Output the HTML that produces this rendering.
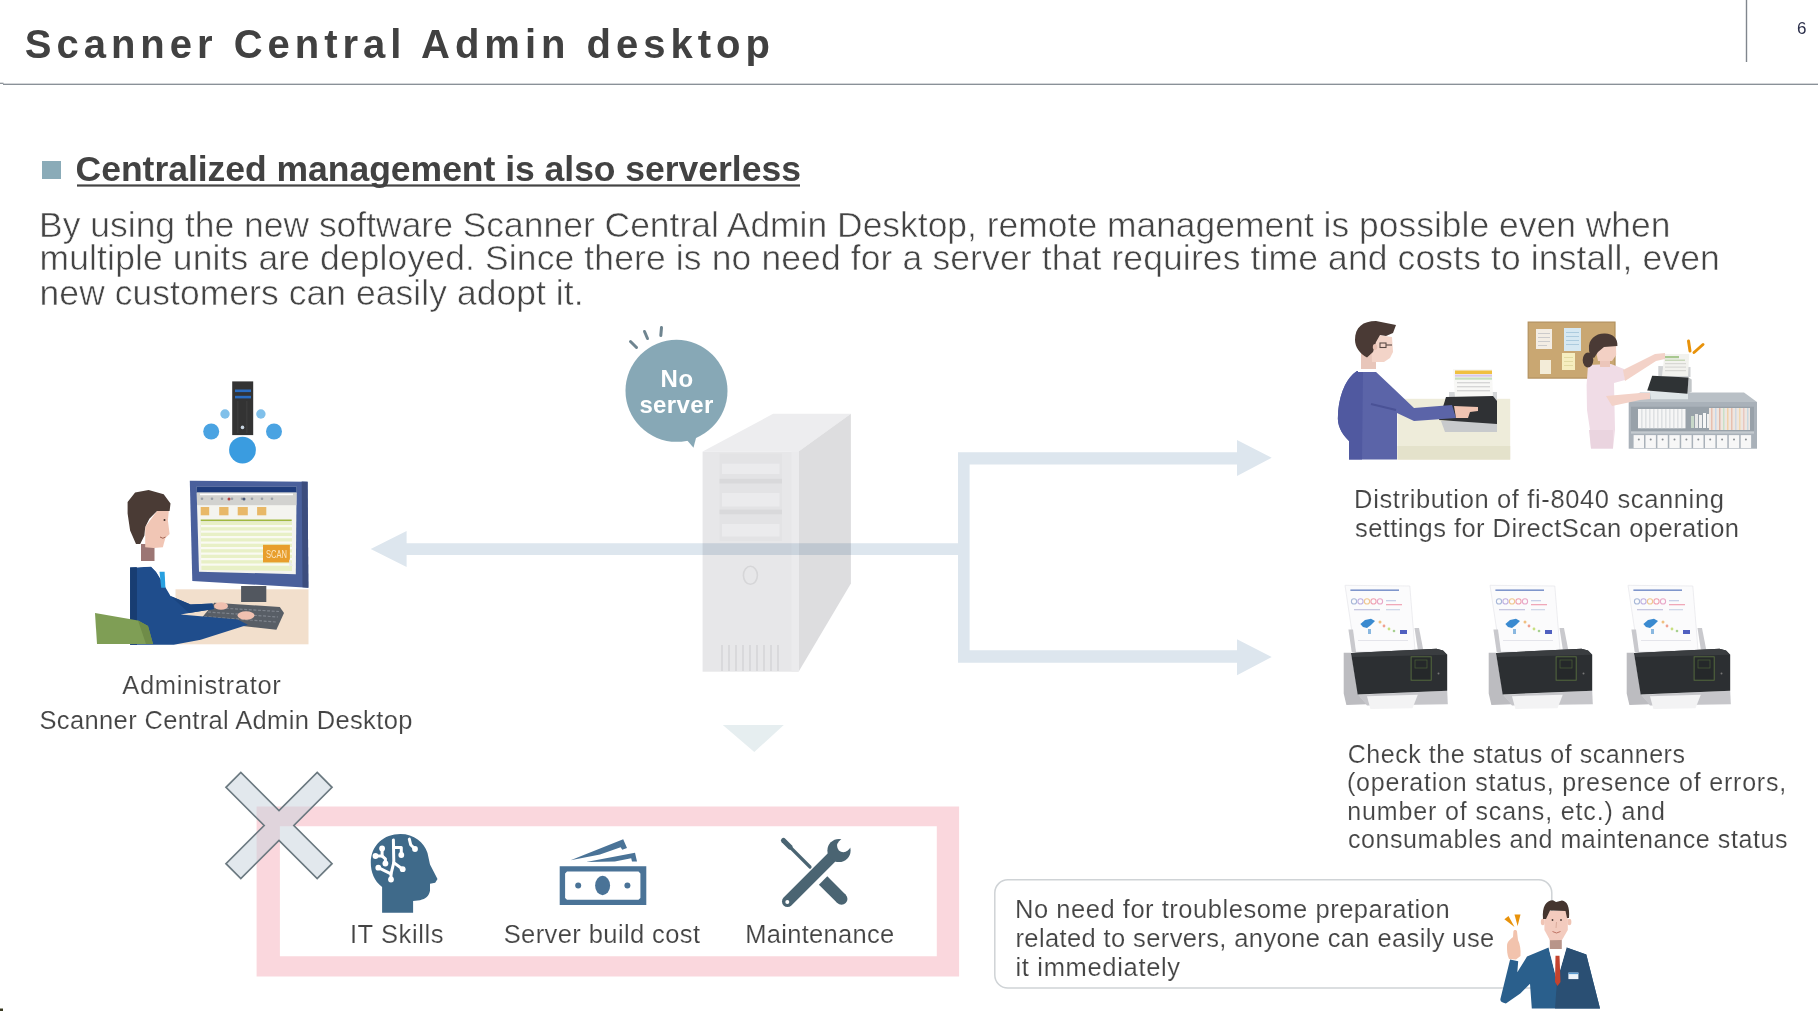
<!DOCTYPE html>
<html><head><meta charset="utf-8">
<style>
html,body{margin:0;padding:0;background:#fff;}
body{width:1818px;height:1011px;overflow:hidden;position:relative;font-family:"Liberation Sans",sans-serif;}
svg{position:absolute;left:0;top:0;}
text{font-family:"Liberation Sans",sans-serif;}
</style></head><body>
<svg width="1818" height="1011" viewBox="0 0 1818 1011">
<!-- header -->
<text x="24.8" y="58" font-size="40" font-weight="bold" fill="#414141" letter-spacing="4.99">Scanner Central Admin desktop</text>
<rect x="3" y="83.65" width="1815" height="1.3" fill="#858c93"/>
<rect x="0" y="82.7" width="3.5" height="1.2" fill="#858c93"/>
<rect x="1745.8" y="0" width="1.4" height="62" fill="#80868e"/>
<text x="1797" y="33.6" font-size="17" fill="#2b2f4a">6</text>

<!-- subtitle bullet + underline -->
<rect x="42" y="161" width="19" height="18" fill="#8aabb8"/>
<rect x="77" y="184.4" width="723" height="2.2" fill="#444"/>

<!-- ===== SERVER (center) ===== -->
<g id="server">
  <polygon points="702.6,451.6 773.1,413.8 850.9,413.8 798.6,451.6" fill="#ededef"/>
  <polygon points="798.6,451.6 850.9,413.8 850.9,583.4 798.6,671.7" fill="#dddddf"/>
  <rect x="702.6" y="451.6" width="96" height="220.1" fill="#e7e7e9"/>
  
  <rect x="791.5" y="451.6" width="7.1" height="220.1" fill="#ebebed"/>
  <rect x="719.5" y="453.4" width="62.5" height="87.6" fill="#e3e3e5"/>
  <rect x="719.5" y="478.8" width="62.5" height="4.7" fill="#d9d9db"/>
  <rect x="719.5" y="509.6" width="62.5" height="4.7" fill="#d9d9db"/>
  <rect x="722" y="463.7" width="57.5" height="10.3" fill="#ebebed"/>
  <rect x="722" y="493" width="57.5" height="13.5" fill="#ebebed"/>
  <rect x="722" y="523.9" width="57.5" height="12.6" fill="#ebebed"/>
  <ellipse cx="750.4" cy="575.3" rx="7" ry="9" fill="none" stroke="#d6d6d8" stroke-width="1.6"/>
  <g stroke="#d6d6d8" stroke-width="1.6">
    <line x1="722" y1="645" x2="722" y2="671"/><line x1="729" y1="645" x2="729" y2="671"/>
    <line x1="736" y1="645" x2="736" y2="671"/><line x1="743" y1="645" x2="743" y2="671"/>
    <line x1="750" y1="645" x2="750" y2="671"/><line x1="757" y1="645" x2="757" y2="671"/>
    <line x1="764" y1="645" x2="764" y2="671"/><line x1="771" y1="645" x2="771" y2="671"/>
    <line x1="778" y1="645" x2="778" y2="671"/>
  </g>
</g>

<!-- ===== ARROWS ===== -->
<polygon style="mix-blend-mode:multiply" fill="#dde6ee" points="370.7,549 406.6,531 406.6,543.2 958,543.2 958,452.3 1237,452.3 1237,440 1271.7,457.8 1237,476 1237,464.5 969.6,464.5 969.6,650.3 1237,650.3 1237,639.3 1271.7,657 1237,675.3 1237,662.7 958,662.7 958,555 406.6,555 406.6,567"/>
<polygon points="722.8,725 783.8,725 754.3,752" fill="#e6eef0"/>

<!-- ===== NO SERVER BUBBLE ===== -->
<g id="bubble">
  <circle cx="676.5" cy="390.8" r="51" fill="#87a8b6"/>
  <polygon points="686,439 696.5,436 693.5,447.7" fill="#87a8b6"/>
  <g stroke="#6f8590" stroke-width="3" stroke-linecap="round">
    <line x1="630.5" y1="341.5" x2="636.5" y2="347.5"/>
    <line x1="644.5" y1="331.5" x2="647.5" y2="338.5"/>
    <line x1="661.5" y1="327.5" x2="660.8" y2="335.5"/>
  </g>
</g>

<!-- ===== ADMIN ILLUSTRATION ===== -->
<g id="admin">
  <!-- server icon + circles -->
  <rect x="232.2" y="381.4" width="21" height="53.7" fill="#333"/>
  <rect x="235" y="389.5" width="16" height="2.6" fill="#2a6cc0"/>
  <rect x="235" y="395.8" width="16" height="2.6" fill="#2a6cc0"/>
  <g fill="#444"><rect x="237.5" y="401" width="0.8" height="32"/><rect x="246.5" y="401" width="0.8" height="32"/></g>
  <circle cx="242.5" cy="427.4" r="1.8" fill="#c8d4e0"/>
  <circle cx="242.5" cy="450.1" r="13.4" fill="#3a9ce0"/>
  <circle cx="211.2" cy="431.5" r="8" fill="#4aa3e2"/>
  <circle cx="274" cy="431.5" r="8" fill="#4aa3e2"/>
  <circle cx="225" cy="414" r="4.7" fill="#80c0ea"/>
  <circle cx="260.9" cy="414" r="4.7" fill="#80c0ea"/>
  <!-- desk -->
  <rect x="175.5" y="589.3" width="133" height="55" fill="#f2dfcc"/>
  <!-- monitor stand -->
  <rect x="241.1" y="586" width="25.2" height="16" fill="#52575f"/>
  <!-- monitor -->
  <polygon points="189.8,480.8 307.6,481.7 308.4,587.7 192.3,581" fill="#4a609c"/>
  <polygon points="301.7,481.5 307.6,481.7 308.4,587.7 302.5,587.3" fill="#3c4d7e"/>
  <polygon points="196.5,486.7 296.6,486.7 295.8,574.2 199,571.7" fill="#f4f4ef"/>
  <rect x="196.5" y="486.7" width="100.1" height="5.9" fill="#1f3c7c"/>
  <rect x="197" y="492.6" width="99.4" height="12.6" fill="#d2d2cf"/>
  <g fill="#ffffff"><rect x="200" y="493.6" width="93" height="1.6"/></g>
  <g fill="#9aa0a8"><circle cx="202" cy="498.8" r="1.3"/><circle cx="212" cy="498.8" r="1.3"/><circle cx="222" cy="498.8" r="1.3"/><circle cx="232" cy="498.8" r="1.3"/><circle cx="242" cy="498.8" r="1.3"/><circle cx="252" cy="498.8" r="1.3"/><circle cx="262" cy="498.8" r="1.3"/><circle cx="272" cy="498.8" r="1.3"/></g>
  <circle cx="229" cy="499" r="1.5" fill="#b04040"/><circle cx="244" cy="499" r="1.5" fill="#4a5a7a"/>
  <g fill="#e8b868">
    <rect x="200.7" y="507" width="8.5" height="8.3"/><rect x="219.2" y="507" width="9.3" height="8.3"/>
    <rect x="237.7" y="507" width="10.1" height="8.3"/><rect x="257.1" y="507" width="9.2" height="8.3"/>
  </g>
  <rect x="200.7" y="519.5" width="91" height="1.7" fill="#a0b840"/>
  <polygon points="200.5,522 292,522 292,571 201.5,570" fill="#e8f0c6"/>
  <g fill="#fafaf2">
    <rect x="201" y="525" width="91" height="2.2"/><rect x="201" y="530.5" width="91" height="2.2"/>
    <rect x="201" y="536" width="91" height="2.2"/><rect x="201" y="541.5" width="91" height="2.2"/>
    <rect x="201" y="547" width="91" height="2.2"/><rect x="201" y="552.5" width="91" height="2.2"/>
    <rect x="201" y="558" width="91" height="2.2"/><rect x="201" y="563.5" width="91" height="2.2"/>
  </g>
  <rect x="263" y="544.8" width="26.9" height="17.6" fill="#e89e2c"/>
  <text x="276.4" y="558" font-size="10.5" fill="#fbe6c0" text-anchor="middle" textLength="21" lengthAdjust="spacingAndGlyphs">SCAN</text>
  <polygon points="289,559 293,566 290.5,565.5 289.5,568" fill="#e8e8e8"/>
  <!-- keyboard -->
  <polygon points="214.2,602.8 279.8,607 284,612.9 276.4,629.7 199,621.3" fill="#585e66"/>
  <g stroke="#7d838c" stroke-width="1.2" stroke-dasharray="3 1.6">
    <line x1="212" y1="607.5" x2="279" y2="611.5"/><line x1="208" y1="612" x2="278" y2="617"/><line x1="204" y1="616.5" x2="276" y2="622"/>
  </g>
  <!-- man suit -->
  <path d="M130.1,567.5 L151.1,566.6 L156.2,571.7 L170.5,596 L190.6,604.5 L212.5,603.6 L214,609 L210.8,609.5 L189,612.9 L180.6,614.6 L237.7,619.6 L247.8,624.7 L200.7,639.8 L173.8,644.8 L130.1,644.8 Z" fill="#1f4d8c"/>
  <path d="M130.1,567.5 L137,567.2 L137,644.8 L130.1,644.8 Z" fill="#183d72"/>
  <path d="M170.5,596 L190.6,604.5 L212.5,603.6 L214,609 L189,612.9 Z" fill="#1a4580"/>
  <!-- chair -->
  <polygon points="95,613 138,620.5 148,626 153,644 97,644" fill="#7f9e55"/>
  <polygon points="138,620.5 148,626 153,644 146,644" fill="#6f8c48"/>
  <!-- shirt / tie -->
  <polygon points="136.8,560.7 163.7,560.7 168,575 165,585 156.2,571.7 151.1,566.6 136.8,567.5" fill="#ffffff"/>
  <polygon points="159.5,571.7 164.6,571.7 165.4,587.7 161.2,587.7" fill="#28a0e0"/>
  <!-- neck -->
  <rect x="141" y="544" width="13.5" height="17" fill="#9c7674"/>
  <!-- face -->
  <path d="M157,511.1 L168.8,511.1 L167.9,520.4 L169.6,534 L165.4,538 L163.7,543.9 L162.9,547.3 L153.6,548.1 L145.2,547.3 L145.2,527.1 Z" fill="#f1c6b5"/>
  <!-- hair -->
  <path d="M127.6,501.9 L135.1,492.6 L148.6,490.1 L163.7,494.3 L170.5,503.5 L169.6,511.1 L157,511.1 L149.4,518.7 L145.2,527.1 L144.4,535.5 L140.2,543.9 L136,543.9 L130.1,530.5 L127.6,513.6 Z" fill="#4a3b35"/>
  <circle cx="164.5" cy="520" r="1" fill="#3a2a25"/>
  <path d="M160,537 Q163,539.5 165.5,537" fill="none" stroke="#9a5a4a" stroke-width="0.9"/>
  <!-- hands -->
  <ellipse cx="221" cy="606" rx="7" ry="3.8" fill="#f0c0b0"/>
  <ellipse cx="246" cy="615.5" rx="8.5" ry="4.2" fill="#f0c0b0"/>
</g>

<!-- ===== RIGHT TOP: man at scanner ===== -->
<g id="man1">
  <rect x="1397.5" y="398.8" width="112.7" height="60.8" fill="#eeecda"/>
  <rect x="1397.5" y="446" width="112.7" height="13.6" fill="#e4e2cb"/>
  <!-- scanner -->
  <polygon points="1449,392 1497,392 1497,402 1449,402" fill="#d4d6d8"/>
  <polygon points="1453,369 1492,369 1493,398 1455,398" fill="#f8f8f6"/>
  <rect x="1455" y="370.5" width="37" height="3.5" fill="#f0c040"/>
  <rect x="1455" y="374.5" width="37" height="2.2" fill="#d8c8e8"/>
  <rect x="1455" y="377.5" width="37" height="2.2" fill="#c8e0c0"/>
  <g fill="#d6d6d6"><rect x="1457" y="382" width="33" height="1.4"/><rect x="1457" y="386" width="33" height="1.4"/><rect x="1457" y="390" width="33" height="1.4"/></g>
  <polygon points="1441,421 1497,421 1497,432 1445,432" fill="#c8cacc"/>
  <polygon points="1446,397 1493,396 1497,401 1497,424 1439,420" fill="#2f3134"/>
  <!-- body -->
  <path d="M1357,371 L1375,371 L1393,388 L1414,408 L1452,405 L1456,418 L1414,421 L1397,413 L1397,459.6 L1349,459.6 L1349,441 C1341,433 1337,425 1338,415 C1339,395 1346,378 1357,371 Z" fill="#5b64a8"/>
  <path d="M1357,371 L1363,372 L1362,459.6 L1349,459.6 L1349,441 C1341,433 1337,425 1338,415 C1339,395 1346,378 1357,371 Z" fill="#5059a0"/>
  <path d="M1371,404 L1396,410" stroke="#4a5296" stroke-width="2"/>
  <path d="M1454,406 L1478,407 L1478,411 L1470,412 L1468,418 L1456,418 Z" fill="#f0c4b2"/>
  <!-- neck/face -->
  <rect x="1358" y="367" width="20" height="5" fill="#ffffff"/>
  <rect x="1361" y="352" width="15" height="17" fill="#e8c6ba"/>
  <path d="M1371,334 L1392,337 L1393,352 L1390,358 L1384,362 L1372,362 Z" fill="#f3d4c8"/>
  <path d="M1355,340 C1355,327 1363,321 1376,321 L1396,325 L1393,333 L1386,336 L1380,335 L1376,342 L1373,352 L1367,357.5 C1360,354 1355,347 1355,340 Z" fill="#4a3a35"/>
  <ellipse cx="1375" cy="347" rx="2.2" ry="3" fill="#e8c0b2"/>
  <g fill="none" stroke="#5a4a45" stroke-width="1.1"><rect x="1380" y="343" width="6" height="4.5"/><line x1="1386" y1="345" x2="1392" y2="345"/></g>
</g>

<!-- ===== RIGHT TOP: nurse ===== -->
<g id="nurse">
  <rect x="1528.2" y="322.1" width="86.8" height="56" fill="#c9a772"/>
  <rect x="1528.2" y="322.1" width="86.8" height="56" fill="none" stroke="#b3915e" stroke-width="1.2"/>
  <rect x="1536" y="329" width="16" height="20" fill="#f3ede4"/>
  <rect x="1564" y="328" width="17" height="23" fill="#d6e8f2"/>
  <rect x="1562" y="353" width="13" height="17" fill="#f6eec0"/>
  <rect x="1540" y="360" width="11" height="14" fill="#f3ecd8"/>
  <g fill="#c8c8c8"><rect x="1538" y="333" width="12" height="0.9"/><rect x="1538" y="337" width="12" height="0.9"/><rect x="1538" y="341" width="12" height="0.9"/><rect x="1538" y="345" width="9" height="0.9"/></g>
  <g fill="#a8c8dc"><rect x="1566" y="332" width="13" height="0.9"/><rect x="1566" y="336" width="13" height="0.9"/><rect x="1566" y="340" width="13" height="0.9"/><rect x="1566" y="344" width="13" height="0.9"/></g>
  <g fill="#e0d8a0"><rect x="1564" y="357" width="9" height="0.9"/><rect x="1564" y="361" width="9" height="0.9"/><rect x="1564" y="365" width="9" height="0.9"/></g>
  <!-- cabinet -->
  <polygon points="1628.7,402 1640,392.4 1744,392.4 1757,402" fill="#b9c0c6"/>
  <rect x="1628.7" y="402" width="128.3" height="46.7" fill="#a9b1b9"/>
  <rect x="1631" y="406.7" width="123" height="24.7" fill="#98a1a9"/>
  <rect x="1638" y="409" width="47.5" height="19.3" fill="#f6f6f6"/>
  <g fill="#c8ccd0">
    <rect x="1641.5" y="409" width="0.8" height="19.3"/><rect x="1645.5" y="409" width="0.8" height="19.3"/><rect x="1649.5" y="409" width="0.8" height="19.3"/><rect x="1653.5" y="409" width="0.8" height="19.3"/><rect x="1657.5" y="409" width="0.8" height="19.3"/><rect x="1661.5" y="409" width="0.8" height="19.3"/><rect x="1665.5" y="409" width="0.8" height="19.3"/><rect x="1669.5" y="409" width="0.8" height="19.3"/><rect x="1673.5" y="409" width="0.8" height="19.3"/><rect x="1677.5" y="409" width="0.8" height="19.3"/><rect x="1681.5" y="409" width="0.8" height="19.3"/>
  </g>
  <rect x="1691" y="416" width="3" height="12" fill="#c8d8c8"/><rect x="1695" y="414" width="3" height="14" fill="#e8e8e8"/><rect x="1699" y="415" width="3" height="13" fill="#f0f0f0"/><rect x="1703" y="413" width="3" height="15" fill="#f6f6f6"/><rect x="1707" y="414" width="2" height="14" fill="#f0f0f0"/>
  <g>
    <rect x="1709" y="408" width="41" height="22" fill="#eee6e0"/>
    <rect x="1711" y="408" width="1.5" height="22" fill="#e8c0b0"/><rect x="1715" y="408" width="1.5" height="22" fill="#c8d8e8"/><rect x="1719" y="408" width="1.5" height="22" fill="#e0b8a8"/><rect x="1723" y="408" width="1.5" height="22" fill="#c8e0c8"/><rect x="1727" y="408" width="1.5" height="22" fill="#f0d0a8"/><rect x="1731" y="408" width="1.5" height="22" fill="#e8c0b0"/><rect x="1735" y="408" width="1.5" height="22" fill="#d0d8e0"/><rect x="1739" y="408" width="1.5" height="22" fill="#f0d8b0"/><rect x="1743" y="408" width="1.5" height="22" fill="#e8c8c0"/><rect x="1747" y="408" width="1.5" height="22" fill="#c8d8e0"/>
  </g>
  <rect x="1631" y="431.4" width="123" height="2.2" fill="#c4cacf"/>
  <g fill="#f7f7f7">
    <rect x="1633.6" y="435.1" width="10.4" height="13"/><rect x="1645.5" y="435.1" width="10.4" height="13"/>
    <rect x="1657.4" y="435.1" width="10.4" height="13"/><rect x="1669.3" y="435.1" width="10.4" height="13"/>
    <rect x="1681.2" y="435.1" width="10.4" height="13"/><rect x="1693.1" y="435.1" width="10.4" height="13"/>
    <rect x="1705" y="435.1" width="10.4" height="13"/><rect x="1716.9" y="435.1" width="10.4" height="13"/>
    <rect x="1728.8" y="435.1" width="10.4" height="13"/><rect x="1740.7" y="435.1" width="10.4" height="13"/>
  </g>
  <g fill="#8a8f94">
    <circle cx="1638.8" cy="439.4" r="1"/><circle cx="1650.7" cy="439.4" r="1"/><circle cx="1662.6" cy="439.4" r="1"/><circle cx="1674.5" cy="439.4" r="1"/><circle cx="1686.4" cy="439.4" r="1"/><circle cx="1698.3" cy="439.4" r="1"/><circle cx="1710.2" cy="439.4" r="1"/><circle cx="1722.1" cy="439.4" r="1"/><circle cx="1734" cy="439.4" r="1"/><circle cx="1745.9" cy="439.4" r="1"/>
  </g>
  <!-- scanner on cabinet -->
  <polygon points="1649.7,390 1688,390 1688,399.2 1651,399.2" fill="#dfe6e8"/>
  <polygon points="1658.3,366 1690.5,367 1690.5,377 1658.3,377" fill="#d0d2d4"/>
  <polygon points="1664.5,354.1 1689.2,354.1 1688,376 1662,376" fill="#f2f2ee"/>
  <rect x="1665" y="356" width="14" height="2.2" fill="#a8c890"/><rect x="1665" y="359.5" width="20" height="1.5" fill="#c8d8b8"/>
  <g fill="#d8d8d4"><rect x="1665" y="363" width="21" height="1.2"/><rect x="1665" y="366.5" width="21" height="1.2"/><rect x="1665" y="370" width="21" height="1.2"/></g>
  <polygon points="1688.6,377.6 1691.7,379.5 1691.7,391.8 1687.4,393.7" fill="#c2c6c8"/>
  <polygon points="1647.2,390.6 1652.2,375.8 1688.6,377.6 1687.4,393.7" fill="#2f3335"/>
  <!-- nurse -->
  <path d="M1588,365 L1611,364 L1624,369 L1625,380 L1614,383 L1615,430 L1613,448.5 L1591,448.5 L1590,430 L1587,410 L1586.6,385 Z" fill="#f0dce6"/>
  <path d="M1589,430 L1613,430 L1613,448.5 L1591,448.5 Z" fill="#ead4df"/>
  <path d="M1623,370 L1655,354 L1665,353 L1665,359 L1656,361 L1625,381 Z" fill="#f3d2c8"/>
  <path d="M1606,396 L1640,393 L1650,393 L1650,399 L1640,400 L1612,406 Z" fill="#f3d2c8"/>
  <rect x="1600" y="358" width="10" height="9" fill="#ecc6ba"/>
  <path d="M1595,346 L1616,345 L1616.2,355 L1612,361 L1598,361 Z" fill="#f3d0c4"/>
  <path d="M1589,349 C1588,339 1596,333 1605,333.4 C1613,333.8 1618,338 1617.4,346 L1604,347 L1598,352 L1594,358 C1590,356 1589,352 1589,349 Z" fill="#4a3a35"/>
  <ellipse cx="1588" cy="360" rx="5.3" ry="7.5" fill="#4a3a35"/>
  <!-- sparks -->
  <g stroke="#e8920a" stroke-width="3" stroke-linecap="round">
    <line x1="1688.5" y1="341" x2="1690" y2="351"/>
    <line x1="1703" y1="344.5" x2="1694" y2="352.5"/>
  </g>
</g>

<!-- ===== SCANNER ROW ===== -->
<defs>
  <g id="scn">
    <polygon points="2,1.3 66.8,2 72,66 12,68" fill="#fbfbfc" stroke="#e9e9ec" stroke-width="0.8"/>
    <rect x="7.4" y="5.4" width="48.6" height="1.6" fill="#7f96cc"/>
    <g fill="none" stroke-width="1.1">
      <circle cx="11" cy="17.4" r="2.6" stroke="#a8b8d8"/><circle cx="17.5" cy="17.4" r="2.6" stroke="#c0b0e0"/>
      <circle cx="24" cy="17.4" r="2.6" stroke="#f0c890"/><circle cx="30.5" cy="17.4" r="2.6" stroke="#f0a0b0"/>
      <circle cx="37" cy="17.4" r="2.6" stroke="#e8a8c8"/>
    </g>
    <rect x="43" y="16" width="10" height="1.3" fill="#c8d0e8"/>
    <rect x="43" y="20" width="16" height="1.3" fill="#f0a8b8"/>
    <rect x="11" y="25" width="26" height="1.3" fill="#c8c8e0"/>
    <rect x="43" y="25" width="14" height="1.3" fill="#d0d8e8"/>
    <path d="M17.4,40 L22,36 L28,34.7 L32,37 L28,41 L24,44 L20,43 Z" fill="#3a8ad0"/>
    <rect x="25" y="45" width="3" height="5" fill="#8ab8e0"/>
    <circle cx="37" cy="38" r="1.5" fill="#f0c080"/><circle cx="41" cy="42" r="1.4" fill="#f0a090"/><circle cx="46" cy="45" r="1.4" fill="#c8e080"/><circle cx="51" cy="47" r="1.3" fill="#a8d090"/>
    <rect x="57" y="46" width="7" height="4" fill="#5060c0"/>
    <rect x="15" y="56" width="50" height="1" fill="#e4e4ea"/>
    <polygon points="5.4,45.4 10,45.4 13,68 8.7,68" fill="#c9c9cd"/>
    <polygon points="71.5,44 76,44 80.2,65.4 74.8,65.4" fill="#c9c9cd"/>
    <polygon points="0.7,68.8 8,68.8 15.4,110.8 24,120.2 3.4,120.9 0.7,109.5" fill="#bcbcc0"/>
    <polygon points="15.4,110.8 104.2,106.8 104.8,120.2 24,121.5" fill="#c6c6ca"/>
    <polygon points="8,69 93.5,64.8 100,66.5 104.2,70.8 104.2,106.8 14.7,110.5" fill="#2c2f32"/>
    <polygon points="8,69 93.5,64.8 100,66.5 104.2,70.8 10,73" fill="#3a3d40"/>
    <rect x="68.1" y="72.8" width="20.1" height="23.4" fill="#25282a" stroke="#5a7040" stroke-width="0.9"/>
    <rect x="72" y="76" width="12" height="8" fill="none" stroke="#4a6038" stroke-width="0.7"/>
    <circle cx="95.5" cy="89.5" r="1" fill="#777"/>
    <polygon points="24,112.2 74.8,110.8 69.5,124.2 27.4,124.9" fill="#f3f3f4"/>
  </g>
</defs>
<use href="#scn" x="1343" y="584"/>
<use href="#scn" x="1488" y="584"/>
<use href="#scn" x="1626" y="584"/>

<!-- ===== X + PINK FRAME ===== -->
<path fill-rule="evenodd" fill="#fad7dd" d="M256.6,806.4 H959.1 V976.6 H256.6 Z M279.9,826.2 V956.3 H936.8 V826.2 Z"/>
<g transform="translate(279,825.5) rotate(45)">
  <polygon points="-10.5,-64.5 10.5,-64.5 10.5,-10.5 64.5,-10.5 64.5,10.5 10.5,10.5 10.5,64.5 -10.5,64.5 -10.5,10.5 -64.5,10.5 -64.5,-10.5 -10.5,-10.5" fill="#c6d2dc" fill-opacity="0.5" stroke="#6b7980" stroke-width="1.7"/>
</g>

<!-- ===== ICONS ===== -->
<g id="head" fill="#3f6a8a">
  <path d="M382.1,912.8 L382.1,887 C374,881 370.8,872 370.8,862.6 C370.8,845 384,833.9 400.4,833.9 C414,833.9 424,842 427.5,853 L430,864.5 L437.5,879 L435.2,882.8 L430,883.7 L430,890.8 C429,896 425.8,899 420,900.2 L413.1,901.1 L413.1,912.8 Z"/>
  <g fill="none" stroke="#fff" stroke-width="3" stroke-linecap="round" stroke-linejoin="round">
    <polyline points="393.4,840 393.8,862.6 402.7,869.2"/>
    <polyline points="393.8,862.6 391,873.9 391,879.5"/>
    <polyline points="391,873.9 378.3,867.7"/>
    <polyline points="393.8,847.5 401.3,847.5 401.3,855"/>
    <polyline points="382.1,848.5 382.1,856 375.5,856"/>
    <polyline points="382.1,856 385.4,858.8 385.4,863.5"/>
    <polyline points="409.3,839.1 410.7,844.7 415,849"/>
  </g>
  <g fill="#fff"><circle cx="402.7" cy="869.2" r="2.9"/><circle cx="391" cy="879.5" r="2.9"/><circle cx="378.3" cy="867.7" r="2.9"/><circle cx="401.3" cy="855" r="2.9"/><circle cx="375.5" cy="856" r="2.9"/><circle cx="385.4" cy="863.5" r="2.9"/><circle cx="415" cy="849" r="2.9"/><circle cx="382.1" cy="848.5" r="2.9"/></g>
</g>
<g id="money" fill="#4a7397">
  <path fill-rule="evenodd" d="M559.7,866.2 H646.3 V904.9 H559.7 Z M567,871.6 H638.5 L640.4,873.5 V897.9 L638.5,899.8 H567 L565.1,897.9 V873.5 Z"/>
  <ellipse cx="602.6" cy="885.5" rx="7.5" ry="9.7"/>
  <circle cx="578.2" cy="885.5" r="3"/><circle cx="627.4" cy="885.5" r="3"/>
  <polygon points="570.6,860.3 623.2,839.3 627,848.1 622.3,849.8 620.6,847.2 600,854.5"/>
  <polygon points="586.2,862 635,852.7 637,861.5 632,861.5 631.2,858.2 614.8,861.5"/>
</g>
<g id="tools" fill="#4a6472" stroke="#4a6472">
  <line x1="783.5" y1="840.5" x2="810" y2="867" stroke-width="3.2" stroke-linecap="round"/>
  <line x1="783.5" y1="840.5" x2="790" y2="847" stroke-width="5.2" stroke-linecap="round"/>
  <polygon stroke="none" points="827.3,876.3 818.9,884.7 837.3,903.1 845.7,894.7"/>
  <circle stroke="none" cx="841.5" cy="898.9" r="5.95"/>
  <line x1="787.5" y1="901.5" x2="834" y2="855" stroke-width="11" stroke-linecap="round"/>
  <circle cx="839" cy="850.5" r="11.6" stroke="none"/>
  <g fill="#fff" stroke="none">
    <circle cx="843.3" cy="846" r="6.2"/>
    <polygon points="838.9,841.6 847.7,850.4 858.3,839.8 849.5,831"/>
    <circle cx="787.3" cy="901.9" r="2"/>
  </g>
</g>

<!-- ===== SPEECH BOX ===== -->
<rect x="994.8" y="879.8" width="557" height="108.3" rx="13" fill="#fff" stroke="#cfd3d6" stroke-width="1.5"/>

<rect x="0" y="1008.5" width="3" height="2.5" fill="#3a3a22"/>
<!-- ===== BOTTOM-RIGHT MAN ===== -->
<g id="man2">
  <path d="M1505.9,1003.4 C1502,1003 1500,1001.5 1500.4,999 L1510.1,959.6 L1518.2,961.2 L1517.3,972.3 L1527,956.6 L1548.6,947.4 L1557,981 L1566.6,947.4 L1586.3,954.6 L1600,1008.5 L1531.8,1008.5 L1530,983.8 L1520.3,993.4 Z" fill="#2a5f8c"/>
  <path d="M1557,981 L1566.6,947.4 L1586.3,954.6 L1600,1008.5 L1555,1008.5 Z" fill="#2a4f73"/>
  <polygon points="1548.6,947.4 1566.6,947.4 1557,981" fill="#ffffff"/>
  <polygon points="1555.5,955.8 1559.5,955.8 1560.5,982 1557.5,986 1555,982" fill="#c4432e"/>
  <rect x="1568.4" y="972.6" width="10" height="6.5" fill="#eef4fa"/>
  <rect x="1568.4" y="972.6" width="10" height="1.5" fill="#5a9ad0"/>
  <rect x="1549.8" y="938" width="12" height="11" fill="#b8958a"/>
  <ellipse cx="1542.8" cy="922" rx="2" ry="3.2" fill="#f0c4b4"/>
  <ellipse cx="1569.4" cy="922" rx="2" ry="3.2" fill="#f0c4b4"/>
  <path d="M1544.4,911 L1567.8,911 L1567.8,930 L1562,940 L1550,940.3 L1544.4,930 Z" fill="#f3cbbe"/>
  <path d="M1543,919 C1542,906 1546,900.5 1553,900.2 L1556,902 L1562,900.5 C1567,901 1570,907 1569,918 L1567,918 L1565.5,911 L1550,910.5 L1546,919 Z" fill="#45352f"/>
  <g fill="#4a3a35"><circle cx="1552.5" cy="920" r="0.9"/><circle cx="1561" cy="920" r="0.9"/></g>
  <path d="M1552.5,931.5 Q1556.5,934.5 1560.5,931.5" fill="none" stroke="#b86a5a" stroke-width="0.9"/>
  <path d="M1556.5,922 L1556,928" fill="none" stroke="#d8a898" stroke-width="0.9"/>
  <path d="M1507,946 C1507,941 1511,939 1513,937 L1513.4,931.5 C1513.8,929.6 1516.8,929.6 1517,931.6 L1518,940 C1520,944 1521,950 1520.5,956 L1516,959.5 L1509,959 C1507,955 1507,950 1507,946 Z" fill="#f2c3ad"/>
  <g fill="#e8920a">
    <polygon points="1504.4,919.3 1508.5,916 1514.5,927.1"/>
    <polygon points="1514.5,914.5 1520.5,914.5 1517.6,926"/>
  </g>
</g>

<g id="texts">
<text x="75.6" y="181.3" font-size="35.5" font-weight="bold" fill="#424242" textLength="725.3" lengthAdjust="spacing">Centralized management is also serverless</text>
<text x="39.1" y="236.5" font-size="35.4" stroke="#fff" stroke-width="0.55" fill="#444444" textLength="1631.3" lengthAdjust="spacing">By using the new software Scanner Central Admin Desktop, remote management is possible even when</text>
<text x="39.6" y="270.3" font-size="35.4" stroke="#fff" stroke-width="0.55" fill="#444444" textLength="1680.1" lengthAdjust="spacing">multiple units are deployed. Since there is no need for a server that requires time and costs to install, even</text>
<text x="39.6" y="305" font-size="35.4" stroke="#fff" stroke-width="0.55" fill="#444444" textLength="544.0" lengthAdjust="spacing">new customers can easily adopt it.</text>
<text x="122.3" y="694.3" font-size="25.5" stroke="#fff" stroke-width="0.15" fill="#444444" textLength="158.5" lengthAdjust="spacing">Administrator</text>
<text x="39.5" y="729.2" font-size="25.5" stroke="#fff" stroke-width="0.15" fill="#444444" textLength="372.9" lengthAdjust="spacing">Scanner Central Admin Desktop</text>
<text x="1354.1" y="507.7" font-size="25.5" stroke="#fff" stroke-width="0.15" fill="#444444" textLength="369.8" lengthAdjust="spacing">Distribution of fi-8040 scanning</text>
<text x="1355.0" y="536.6" font-size="25.5" stroke="#fff" stroke-width="0.15" fill="#444444" textLength="384.0" lengthAdjust="spacing">settings for DirectScan operation</text>
<text x="1347.7" y="762.8" font-size="25" stroke="#fff" stroke-width="0.15" fill="#444444" textLength="337.3" lengthAdjust="spacing">Check the status of scanners</text>
<text x="1347.0" y="791.2" font-size="25" stroke="#fff" stroke-width="0.15" fill="#444444" textLength="439.2" lengthAdjust="spacing">(operation status, presence of errors,</text>
<text x="1347.3" y="819.8" font-size="25" stroke="#fff" stroke-width="0.15" fill="#444444" textLength="317.7" lengthAdjust="spacing">number of scans, etc.) and</text>
<text x="1347.9" y="848.4" font-size="25" stroke="#fff" stroke-width="0.15" fill="#444444" textLength="439.6" lengthAdjust="spacing">consumables and maintenance status</text>
<text x="349.9" y="943.3" font-size="25.5" stroke="#fff" stroke-width="0.15" fill="#444444" textLength="93.5" lengthAdjust="spacing">IT Skills</text>
<text x="503.7" y="943.3" font-size="25.5" stroke="#fff" stroke-width="0.15" fill="#444444" textLength="196.4" lengthAdjust="spacing">Server build cost</text>
<text x="745.2" y="943.3" font-size="25.5" stroke="#fff" stroke-width="0.15" fill="#444444" textLength="148.9" lengthAdjust="spacing">Maintenance</text>
<text x="1015.1" y="918.2" font-size="25.5" stroke="#fff" stroke-width="0.15" fill="#444444" textLength="434.6" lengthAdjust="spacing">No need for troublesome preparation</text>
<text x="1015.5" y="946.8" font-size="25.5" stroke="#fff" stroke-width="0.15" fill="#444444" textLength="478.7" lengthAdjust="spacing">related to servers, anyone can easily use</text>
<text x="1015.5" y="975.9" font-size="25.5" stroke="#fff" stroke-width="0.15" fill="#444444" textLength="164.6" lengthAdjust="spacing">it immediately</text>
<text x="660.4" y="386.9" font-size="24" font-weight="bold" fill="#ffffff" textLength="32.8" lengthAdjust="spacing">No</text>
<text x="639.4" y="412.6" font-size="24" font-weight="bold" fill="#ffffff" textLength="73.9" lengthAdjust="spacing">server</text>

</g>
</svg>
</body></html>
